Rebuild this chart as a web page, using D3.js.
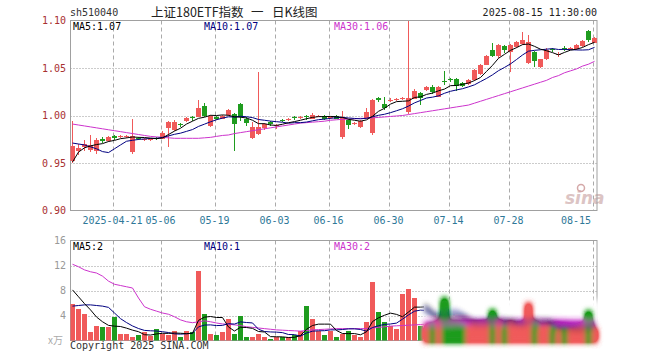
<!DOCTYPE html>
<html>
<head>
<meta charset="utf-8">
<script src="https://cdn.jsdelivr.net/npm/d3@7"></script>
<style>
body { margin: 0; background: #fff; }
text { font-family: "DejaVu Sans Mono", monospace; font-size: 10px; }
</style>
</head>
<body>
<div id="chart"></div>
<script>
var width = 660;
var height = 360;

// trading days shown (2025)
var dates = ["04-10","04-11","04-14","04-15","04-16","04-17","04-18","04-21","04-22","04-23",
  "04-24","04-25","04-28","04-29","04-30","05-06","05-07","05-08","05-09","05-12",
  "05-13","05-14","05-15","05-16","05-19","05-20","05-21","05-22","05-23","05-26",
  "05-27","05-28","05-29","05-30","06-03","06-04","06-05","06-06","06-09","06-10",
  "06-11","06-12","06-13","06-16","06-17","06-18","06-19","06-20","06-23","06-24",
  "06-25","06-26","06-27","06-30","07-01","07-02","07-03","07-04","07-07","07-08",
  "07-09","07-10","07-11","07-14","07-15","07-16","07-17","07-18","07-21","07-22",
  "07-23","07-24","07-25","07-28","07-29","07-30","07-31","08-01","08-04","08-05",
  "08-06","08-07","08-08","08-11","08-12","08-13","08-14","08-15"];

var open = [0.952,0.963,0.967,0.964,0.962,0.975,0.973,0.978,0.977,0.977,
  0.961,0.976,0.974,0.974,0.976,0.976,0.987,0.985,0.991,0.994,
  0.998,0.999,1.010,0.990,0.998,0.997,1.001,1.002,1.012,0.996,
  0.976,0.981,0.987,0.993,0.989,0.995,0.995,0.998,0.997,0.999,
  0.997,0.999,1.000,0.997,1.000,0.977,0.995,0.991,0.988,0.997,
  0.981,1.018,1.012,1.015,1.016,1.017,1.003,1.018,1.024,1.027,
  1.030,1.020,1.036,1.038,1.038,1.034,1.033,1.037,1.044,1.054,
  1.069,1.062,1.073,1.067,1.072,1.075,1.055,1.067,1.051,1.059,
  1.070,1.064,1.071,1.070,1.070,1.073,1.089,1.077];

var close = [0.968,0.966,0.970,0.969,0.974,0.973,0.977,0.976,0.978,0.978,
  0.978,0.975,0.975,0.975,0.975,0.982,0.993,0.993,0.990,0.997,
  0.997,1.008,0.999,1.000,0.996,1.000,1.006,0.991,0.998,0.992,
  0.988,0.988,0.991,0.991,0.990,0.994,0.996,0.997,0.998,0.998,
  1.001,1.000,0.997,0.999,0.997,0.997,0.990,0.992,0.994,1.004,
  1.016,1.016,1.008,1.016,1.017,1.018,1.018,1.026,1.019,1.030,
  1.025,1.030,1.035,1.037,1.031,1.031,1.037,1.048,1.053,1.063,
  1.063,1.074,1.069,1.074,1.077,1.079,1.077,1.057,1.059,1.069,
  1.069,1.065,1.070,1.071,1.074,1.078,1.080,1.082];

var high = [0.994,0.970,0.974,0.980,0.976,0.977,0.978,0.979,0.980,0.979,
  0.996,0.977,0.976,0.976,0.977,0.984,0.994,0.995,0.992,0.998,
  1.000,1.016,1.013,1.001,0.999,1.001,1.007,1.003,1.013,0.998,
  0.993,1.046,0.992,0.994,0.991,0.996,0.997,0.999,1.000,1.001,
  1.003,1.001,1.001,1.000,1.001,1.005,0.996,0.993,0.995,1.008,
  1.017,1.020,1.020,1.018,1.018,1.019,1.099,1.028,1.025,1.031,
  1.032,1.031,1.047,1.040,1.039,1.035,1.038,1.049,1.054,1.064,
  1.076,1.075,1.074,1.075,1.078,1.088,1.085,1.068,1.060,1.071,
  1.071,1.067,1.073,1.072,1.075,1.079,1.090,1.083];

var low = [0.950,0.958,0.963,0.962,0.960,0.971,0.972,0.974,0.976,0.976,
  0.960,0.974,0.973,0.973,0.974,0.975,0.967,0.984,0.988,0.993,
  0.994,0.998,0.998,0.988,0.995,0.996,1.000,0.963,0.994,0.989,
  0.975,0.980,0.985,0.989,0.986,0.993,0.994,0.995,0.996,0.995,
  0.996,0.998,0.995,0.996,0.996,0.975,0.986,0.990,0.987,0.996,
  0.980,1.014,1.006,1.014,1.015,1.016,1.002,1.017,1.011,1.026,
  1.023,1.019,1.032,1.035,1.026,1.030,1.032,1.036,1.043,1.053,
  1.062,1.061,1.066,1.046,1.071,1.074,1.054,1.051,1.050,1.058,
  1.067,1.062,1.068,1.069,1.069,1.072,1.077,1.076];

// volume, in 万
var volume = [5.9,5.0,4.3,1.3,2.3,2.1,2.1,3.7,1.0,1.0,
  0.5,0.85,1.3,0.7,1.9,1.0,0.8,1.6,0.5,1.6,
  1.3,11.1,4.2,1.0,0.8,1.3,3.5,1.0,4.0,0.6,
  0.6,1.0,0.6,0.3,0.5,0.5,0.5,0.8,1.6,5.6,
  3.5,1.6,0.8,1.6,0.5,1.1,1.5,0.85,0.6,2.9,
  9.3,4.5,2.9,2.3,1.9,7.4,8.3,6.8,2.3,2.2,
  2.6,3.0,6.7,3.0,2.8,2.4,2.2,2.6,2.8,3.0,
  4.8,2.6,2.2,2.6,2.2,2.4,5.8,2.6,2.0,2.2,
  1.8,1.4,1.6,1.5,1.8,2.2,4.5,1.8];

// MA30 lines (need history before the window)
var ma30 = [0.991,0.990,0.989,0.988,0.987,0.986,0.985,0.984,0.983,0.982,
  0.981,0.980,0.979,0.978,0.9775,0.977,0.9765,0.976,0.976,0.976,
  0.976,0.976,0.9765,0.977,0.978,0.979,0.9795,0.981,0.982,0.983,
  0.984,0.985,0.986,0.987,0.988,0.989,0.990,0.991,0.992,0.9925,
  0.993,0.9935,0.994,0.995,0.9955,0.996,0.9962,0.9965,0.997,0.997,
  0.9975,0.998,0.9985,0.999,0.9995,1.000,1.001,1.002,1.003,1.004,
  1.005,1.006,1.007,1.008,1.009,1.010,1.011,1.013,1.015,1.017,
  1.019,1.021,1.023,1.025,1.027,1.029,1.031,1.033,1.035,1.037,
  1.040,1.042,1.045,1.047,1.049,1.052,1.054,1.057];

var volMa30 = [12.2,11.8,11.3,11.0,10.8,10.3,9.5,9.0,8.8,8.6,
  8.4,6.8,5.4,5.0,4.7,4.4,4.2,3.8,3.3,3.0,
  2.85,3.0,3.15,3.0,2.8,2.65,2.6,2.5,2.4,2.2,
  2.1,2.0,1.9,1.8,1.7,1.65,1.6,1.55,1.5,1.6,
  1.7,1.75,1.8,1.85,1.9,1.9,1.9,1.9,1.9,1.9,
  2.0,2.1,2.2,2.3,2.35,2.4,2.45,2.5,2.55,2.6,
  2.6,2.65,2.7,2.7,2.75,2.75,2.8,2.8,2.8,2.85,
  2.85,2.85,2.9,2.9,2.9,2.9,2.95,2.95,2.9,2.9,
  2.9,2.85,2.85,2.8,2.8,2.8,2.75,2.7];

// first points of MA5 / MA10, before a full window exists
var ma5Lead = [0.951,0.9615,0.966,0.968];
var ma10Lead = [0.971,0.970,0.969,0.967,0.965,0.962,0.961,0.965,0.969];
var volMa5Lead = [8.1,7.0,5.9,4.9];
var volMa10Lead = [5.5,5.6,5.7,5.7,5.6,5.5,5.3,4.4,3.5];

var priceTicks = [0.90, 0.95, 1.00, 1.05, 1.10];
var volTicks = [4, 8, 12, 16];
var dateTicks = ["04-21","05-06","05-19","06-03","06-16","06-30","07-14","07-28","08-15"];
var dateLabels = ["2025-04-21","05-06","05-19","06-03","06-16","06-30","07-14","07-28","08-15"];

var up = "#f05a5a", down = "#1f9c1f";
var c5 = "#000000", c10 = "#000080", c30 = "#cc33cc";

function movingAvg(vals, n, lead) {
    return vals.map(function(v, i) {
        return i < n - 1 ? lead[i] : d3.mean(vals.slice(i - n + 1, i + 1));
    });
}
var ma5 = movingAvg(close, 5, ma5Lead);
var ma10 = movingAvg(close, 10, ma10Lead);
var volMa5 = movingAvg(volume, 5, volMa5Lead);
var volMa10 = movingAvg(volume, 10, volMa10Lead);

var left = 70.5, right = 597;
var pTop = 20.5, pBot = 210.5;
var vTop = 240.5, vBot = 340.5;

var x = d3.scaleBand().domain(dates).range([68.5, 596.5]);
var cx = function(i) { return Math.round(x(dates[i]) + x.bandwidth() / 2) + 0.5; };
var yP = d3.scaleLinear().domain([0.90, 1.10]).range([pBot, pTop]);
var yV = d3.scaleLinear().domain([0, 16]).range([vBot, vTop]);

var svg = d3.select("#chart").append("svg")
    .attr("width", width).attr("height", height);

var defs = svg.append("defs");
defs.append("clipPath").attr("id", "clipP").append("rect")
    .attr("x", left).attr("y", pTop).attr("width", right - left).attr("height", pBot - pTop);
defs.append("clipPath").attr("id", "clipV").append("rect")
    .attr("x", left).attr("y", vTop).attr("width", 424 - left).attr("height", vBot - vTop);
defs.append("clipPath").attr("id", "clipVB").append("rect")
    .attr("x", 424).attr("y", vTop).attr("width", right - 424).attr("height", vBot - vTop);
var f = defs.append("filter").attr("id", "smudge")
    .attr("x", "-20%").attr("y", "-60%").attr("width", "140%").attr("height", "220%");
f.append("feGaussianBlur").attr("stdDeviation", "2.4 3");
f.append("feComponentTransfer").append("feFuncA").attr("type", "linear").attr("slope", 2.5);
var fw = defs.append("filter").attr("id", "soft")
    .attr("x", "-20%").attr("y", "-60%").attr("width", "140%").attr("height", "220%");
fw.append("feGaussianBlur").attr("stdDeviation", 3);

// grid
function grid(g, y0, y1, yTicks, yScale) {
    g.selectAll(".hg").data(yTicks).enter().append("line")
        .attr("x1", left).attr("x2", right)
        .attr("y1", function(d) { return Math.round(yScale(d)) + 0.5; })
        .attr("y2", function(d) { return Math.round(yScale(d)) + 0.5; })
        .attr("stroke", "#999").attr("stroke-dasharray", "1,2");
    g.selectAll(".vg").data(dateTicks).enter().append("line")
        .attr("x1", function(d) { return cx(dates.indexOf(d)) - 1; })
        .attr("x2", function(d) { return cx(dates.indexOf(d)) - 1; })
        .attr("y1", y0).attr("y2", y1)
        .attr("stroke", "#aaa").attr("stroke-dasharray", "4,3");
}
grid(svg.append("g"), pTop, pBot, [0.95, 1.00, 1.05], yP);
grid(svg.append("g"), vTop, vBot, [4, 8, 12], yV);

// watermark
svg.append("text").attr("x", 565).attr("y", 204)
    .style("font-family", "DejaVu Sans").style("font-size", "17px")
    .style("font-style", "italic").style("font-weight", "bold")
    .attr("fill", "#dcc4c4").text("sina");
svg.append("circle").attr("cx", 581).attr("cy", 188).attr("r", 3.5)
    .attr("fill", "none").attr("stroke", "#d4a8a8").attr("stroke-width", 1.5);

// frames
svg.append("rect").attr("x", left).attr("y", pTop).attr("width", right - left).attr("height", pBot - pTop)
    .attr("fill", "none").attr("stroke", "#a0a0a0");
svg.append("rect").attr("x", left).attr("y", vTop).attr("width", right - left).attr("height", vBot - vTop)
    .attr("fill", "none").attr("stroke", "#a0a0a0");

// candles
var idx = d3.range(dates.length);
var candles = svg.append("g").attr("clip-path", "url(#clipP)")
    .attr("shape-rendering", "crispEdges");
candles.selectAll("line").data(idx).enter().append("line")
    .attr("x1", cx).attr("x2", cx)
    .attr("y1", function(i) { return yP(high[i]); })
    .attr("y2", function(i) { return yP(low[i]); })
    .attr("stroke", function(i) { return close[i] >= open[i] ? up : down; });
candles.selectAll("rect").data(idx).enter().append("rect")
    .attr("x", function(i) { return cx(i) - 2.5; })
    .attr("width", 5)
    .attr("y", function(i) { return Math.round(yP(Math.max(open[i], close[i]))); })
    .attr("height", function(i) { return Math.max(1, Math.round(Math.abs(yP(open[i]) - yP(close[i])))); })
    .attr("fill", function(i) { return close[i] >= open[i] ? up : down; });

// price MA lines
function maLine(vals, yScale) {
    return d3.line().x(function(d, i) { return cx(i); }).y(function(d) { return yScale(d); })(vals);
}
var pm = svg.append("g").attr("clip-path", "url(#clipP)").attr("fill", "none");
pm.append("path").attr("d", maLine(ma30, yP)).attr("stroke", c30);
pm.append("path").attr("d", maLine(ma10, yP)).attr("stroke", c10);
pm.append("path").attr("d", maLine(ma5, yP)).attr("stroke", c5);

// volume bars and lines
function volLayer(g, ids, pad) {
    g.selectAll("rect.v").data(ids).enter().append("rect")
        .attr("x", function(i) { return cx(i) - 2.5 - pad; })
        .attr("width", 5 + 2 * pad)
        .attr("y", function(i) { return Math.round(yV(volume[i])); })
        .attr("height", function(i) { return vBot - Math.round(yV(volume[i])) + 2 * pad; })
        .attr("fill", function(i) { return close[i] >= open[i] ? up : down; });
}
var vCrisp = svg.append("g").attr("clip-path", "url(#clipV)");
volLayer(vCrisp.append("g").attr("shape-rendering", "crispEdges"), idx, 0);
vCrisp.append("path").attr("d", maLine(volMa30, yV)).attr("stroke", c30).attr("fill", "none");
vCrisp.append("path").attr("d", maLine(volMa10, yV)).attr("stroke", c10).attr("fill", "none");
vCrisp.append("path").attr("d", maLine(volMa5, yV)).attr("stroke", c5).attr("fill", "none");

// smudged part at the bottom right
svg.append("rect").attr("x", 424).attr("y", 300).attr("width", 178).attr("height", 50)
    .attr("fill", "#fff").attr("filter", "url(#soft)");
var vBlur = svg.append("g").attr("filter", "url(#smudge)");
volLayer(vBlur, idx.filter(function(i) { return i >= 59; }), 0.5);
var vbl = vBlur.append("g").attr("clip-path", "url(#clipVB)").attr("fill", "none");
vbl.append("path").attr("d", maLine(volMa30, yV)).attr("stroke", c30).attr("stroke-width", 2.5);
vbl.append("path").attr("d", maLine(volMa10, yV)).attr("stroke", c10);
vbl.append("path").attr("d", maLine(volMa5, yV)).attr("stroke", c5);

// axis labels
svg.selectAll(".pl").data(priceTicks).enter().append("text")
    .attr("x", 66).attr("y", function(d) { return yP(d); }).attr("dy", "0.35em")
    .attr("text-anchor", "end").attr("fill", "#a83030")
    .text(function(d) { return d.toFixed(2); });
svg.selectAll(".vl").data(volTicks).enter().append("text")
    .attr("x", 66).attr("y", function(d) { return yV(d); }).attr("dy", "0.35em")
    .attr("text-anchor", "end").attr("fill", "#999")
    .text(function(d) { return d; });
svg.append("text").attr("x", 63).attr("y", 344).attr("text-anchor", "end")
    .attr("fill", "#aaa").style("font-family", "Noto Sans CJK SC").text("x万");
svg.selectAll(".dl").data(dateTicks).enter().append("text")
    .attr("x", function(d, k) { return k === dateTicks.length - 1 ? 591 : cx(dates.indexOf(d)) - 2; })
    .attr("y", 224)
    .attr("text-anchor", function(d, k) { return k === dateTicks.length - 1 ? "end" : "middle"; })
    .attr("fill", "#2e7898")
    .text(function(d, k) { return dateLabels[k]; });

// headers
svg.append("text").attr("x", 70).attr("y", 16).attr("fill", "#333").text("sh510040");
var title = svg.append("text").attr("y", 17).attr("fill", "#222")
    .style("font-family", "Noto Sans CJK SC").style("font-size", "12.5px");
title.append("tspan").attr("x", 151).text("上证180ETF指数");
title.append("tspan").attr("x", 251).text("一");
title.append("tspan").attr("x", 272).text("日K线图");
svg.append("text").attr("x", 597).attr("y", 16).attr("text-anchor", "end")
    .attr("fill", "#222").text("2025-08-15 11:30:00");

var maLabels = [["MA5:1.07", c5, 73], ["MA10:1.07", c10, 204], ["MA30:1.06", c30, 334]];
svg.selectAll(".ml").data(maLabels).enter().append("text")
    .attr("x", function(d) { return d[2]; }).attr("y", 30)
    .attr("fill", function(d) { return d[1]; }).text(function(d) { return d[0]; });
var volLabels = [["MA5:2", c5, 73], ["MA10:1", c10, 204], ["MA30:2", c30, 334]];
svg.selectAll(".vml").data(volLabels).enter().append("text")
    .attr("x", function(d) { return d[2]; }).attr("y", 250)
    .attr("fill", function(d) { return d[1]; }).text(function(d) { return d[0]; });

svg.append("text").attr("x", 70).attr("y", 349).attr("fill", "#333").text("Copyright 2025 SINA.COM");
</script>
</body>
</html>
